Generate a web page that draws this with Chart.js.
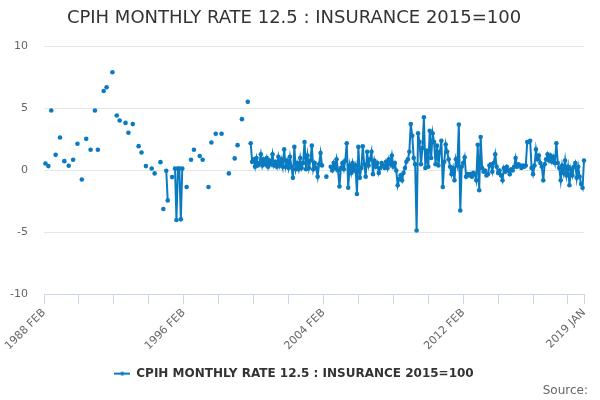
<!DOCTYPE html>
<html><head><meta charset="utf-8">
<script src="https://cdn.jsdelivr.net/npm/chart.js@4.4.1/dist/chart.umd.min.js"></script>
<style>html,body{margin:0;padding:0;background:#fff}#wrap{width:600px;height:400px;position:relative}</style>
</head><body><div id="wrap"><canvas id="c"></canvas></div>
<script>
const chartTitle = 'CPIH MONTHLY RATE 12.5 : INSURANCE 2015=100';
const seriesName = 'CPIH MONTHLY RATE 12.5 : INSURANCE 2015=100';
const sourceText = 'Source:';
const monthNames = ['JAN','FEB','MAR','APR','MAY','JUN','JUL','AUG','SEP','OCT','NOV','DEC'];
const firstYear = 1988;
const firstMonth = 1; // FEB
const yTickValues = [-10, -5, 0, 5, 10];

// Monthly rate (%), one row per 12 months starting 1988 FEB; null = no value
const rates = [
  null,0.56,null,0.35,null,4.84,null,null,1.26,null,null,2.66,
  null,null,0.75,null,null,0.38,null,null,0.86,null,null,2.15,
  null,null,-0.73,null,null,2.55,null,null,1.67,null,null,4.84,
  null,1.67,null,null,null,6.42,null,6.72,null,null,null,7.93,
  null,null,4.44,null,4.03,null,null,null,3.84,null,3.04,null,
  null,3.74,null,null,null,1.96,null,1.45,null,null,0.35,null,
  null,null,0.16,null,-0.24,null,null,null,0.67,null,-3.12,null,
  -0.03,-2.42,null,null,-0.54,null,0.15,-4.0,0.15,0.15,-3.95,0.15,
  null,null,-1.34,null,null,0.86,null,1.67,null,null,null,1.16,
  null,0.86,null,null,null,-1.34,null,2.26,null,null,2.96,null,
  null,null,2.96,null,null,null,null,-0.24,null,null,null,0.97,
  null,2.04,null,null,4.14,null,null,null,5.54,null,2.2,0.7,
  0.9,0.3,1.0,0.4,0.6,1.3,0.4,0.9,0.5,1.0,0.3,0.8,
  0.5,1.3,0.4,0.7,0.3,1.1,0.4,0.9,0.3,1.7,0.3,0.8,
  0.2,1.1,0.3,-0.6,1.9,0.1,0.6,0.1,1.0,0.2,0.6,2.3,
  0.1,1.2,0.2,0.8,2.0,0.1,0.6,0.2,-0.5,0.5,1.4,0.4,
  null,null,-0.5,null,null,0.3,0.0,0.6,0.2,0.9,0.0,-1.3,
  0.2,0.6,0.1,0.8,2.2,-1.4,0.4,-0.2,0.6,0.0,0.4,-1.9,
  1.9,-0.6,0.2,1.95,0.5,-0.5,1.5,0.4,0.9,1.5,-0.3,0.8,
  0.3,0.6,-0.2,0.2,0.6,0.4,0.2,0.7,0.2,0.9,0.5,1.2,
  0.3,0.6,0.0,-1.2,-0.7,-0.4,-0.8,-0.2,0.2,0.7,0.9,1.5,
  3.75,2.8,1.0,0.5,-4.85,3.0,2.3,0.5,1.8,4.3,0.2,1.6,
  0.3,3.2,1.0,3.0,2.3,0.5,2.0,0.4,1.5,2.4,-1.34,0.7,
  2.1,1.5,0.9,0.3,-0.3,0.2,-0.8,0.9,0.4,3.7,-3.23,0.3,
  0.6,1.07,-0.5,-0.3,-0.4,-0.3,-0.5,-0.2,-0.3,-0.8,2.07,-1.6,
  2.7,0.2,-0.1,0.0,-0.4,-0.3,0.4,0.5,-0.1,0.6,1.3,0.3,
  -0.2,0.0,-0.4,-0.8,0.2,-0.1,0.3,0.0,-0.3,0.1,0.0,0.3,
  1.0,0.3,0.5,0.4,0.2,0.4,0.3,0.4,2.3,2.3,2.4,0.2,
  -0.3,0.4,1.7,0.9,1.2,0.6,0.3,-0.8,0.5,0.9,1.3,0.8,
  1.2,0.7,1.1,0.6,2.2,0.6,0.2,-0.8,0.4,-0.2,0.8,-0.4,
  0.3,-1.2,0.1,-0.4,0.3,0.6,-0.6,0.3,-0.5,-1.1,-1.4,0.8
];

// Category labels: one per month from 1988 FEB
const categories = rates.map((_, i) => {
  const m = firstMonth + i;
  return (firstYear + Math.floor(m / 12)) + ' ' + monthNames[m % 12];
});
const lastIdx = categories.length - 1;
const labelEvery = 96, tickEvery = 24;

const lineColor = '#0b7bc1';

// legend icon: short line with a dot
const icon = document.createElement('canvas');
icon.width = 16; icon.height = 8;
(function(){
  const g = icon.getContext('2d');
  g.strokeStyle = lineColor; g.lineWidth = 2;
  g.beginPath(); g.moveTo(0,4); g.lineTo(16,4); g.stroke();
  g.fillStyle = lineColor; g.beginPath(); g.arc(8,4,2,0,Math.PI*2); g.fill();
})();

new Chart(document.getElementById('c'), {
  type: 'line',
  data: {
    labels: categories,
    datasets: [{
      label: seriesName,
      data: rates,
      borderColor: lineColor,
      backgroundColor: lineColor,
      borderWidth: 2,
      pointRadius: 2.3,
      pointHoverRadius: 3,
      pointBorderWidth: 0,
      spanGaps: false,
      tension: 0
    }]
  },
  options: {
    responsive: true,
    maintainAspectRatio: false,
    animation: false,
    layout: { padding: { left: 0, right: 12, top: 0, bottom: 2 } },
    plugins: {
      title: {
        display: true, text: chartTitle, color: '#333333',
        font: { family: 'DejaVu Sans', size: 18, weight: 'normal' },
        padding: { top: 8, bottom: 17 }
      },
      subtitle: {
        display: true, text: sourceText, position: 'bottom', align: 'end',
        color: '#666666', font: { family: 'DejaVu Sans', size: 12, weight: 'normal' },
        padding: { top: -6, bottom: 0 }
      },
      legend: {
        position: 'bottom',
        labels: {
          usePointStyle: true, pointStyle: icon, pointStyleWidth: 16,
          color: '#333333', font: { family: 'DejaVu Sans', size: 12, weight: 'bold' },
          padding: 4
        }
      },
      tooltip: { enabled: false }
    },
    scales: {
      x: {
        type: 'category',
        offset: false,
        afterFit: (scale) => { scale.height += 9; scale.paddingRight = 16; },
        grid: {
          drawOnChartArea: false, drawTicks: true, tickLength: 10,
          color: (ctx) => (ctx.index % tickEvery === 0 || ctx.index === lastIdx) ? '#ccd6eb' : 'rgba(0,0,0,0)'
        },
        border: { display: true, color: '#ccd6eb', width: 1 },
        ticks: {
          autoSkip: false, minRotation: 45, maxRotation: 45,
          color: '#666666', font: { family: 'DejaVu Sans', size: 11 },
          padding: 2,
          callback: function(v, i) {
            return (i % labelEvery === 0 || i === lastIdx) ? categories[i] : '';
          }
        }
      },
      y: {
        min: -10, max: 10,
        afterBuildTicks: (scale) => { scale.ticks = yTickValues.map(v => ({ value: v })); },
        afterFit: (scale) => { scale.width = 44; },
        grid: { color: '#e6e6e6', drawTicks: false, lineWidth: 1 },
        border: { display: false },
        ticks: {
          color: '#666666', font: { family: 'DejaVu Sans', size: 11 }, padding: 16
        }
      }
    }
  }
});
</script>
</body></html>
